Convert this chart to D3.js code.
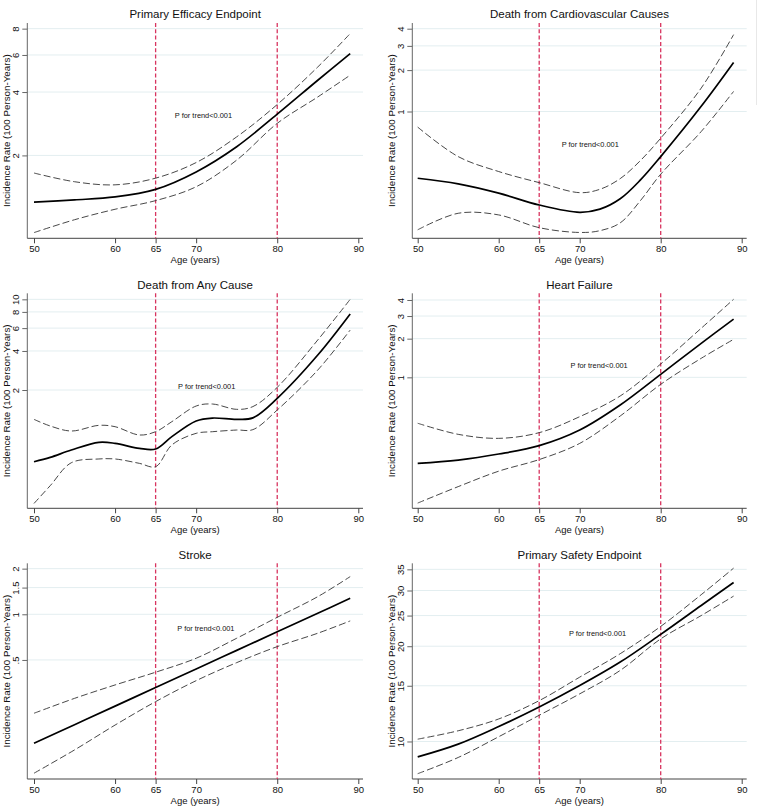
<!DOCTYPE html>
<html><head><meta charset="utf-8">
<script src="https://cdn.jsdelivr.net/npm/d3@7"></script>
<style>
html,body{margin:0;padding:0;background:#fff;}
svg{display:block;font-family:"Liberation Sans",Arial,Helvetica,sans-serif;}
</style></head>
<body><svg id="chart" width="760" height="808"></svg>
<script>
// ---------- data ----------
const ages = [50, 55, 60, 65, 70, 75, 80, 85, 89];
const cvDeathAges = [50, 55, 60, 65, 70, 72.5, 75, 77.5, 80, 85, 89];
const anyCauseAges = [50, 52, 54.6, 58, 60, 63, 65, 67, 70, 72, 75, 77, 80, 85, 89];
const xTicks = [50, 60, 65, 70, 80, 90];
const cutoffs = [65, 80];

const efficacyEst = [1.20, 1.23, 1.27, 1.38, 1.67, 2.20, 3.14, 4.55, 6.09];
const efficacyLo  = [0.86, 0.99, 1.11, 1.22, 1.42, 1.90, 2.84, 3.79, 4.81];
const efficacyHi  = [1.65, 1.50, 1.45, 1.56, 1.85, 2.45, 3.49, 5.26, 7.58];
const efficacyTicks = [2, 4, 6, 8];

const cvDeathEst = [0.327, 0.298, 0.255, 0.209, 0.185, 0.195, 0.232, 0.318, 0.470, 1.09, 2.27];
const cvDeathLo  = [0.138, 0.182, 0.177, 0.143, 0.132, 0.136, 0.155, 0.225, 0.350, 0.715, 1.40];
const cvDeathHi  = [0.770, 0.470, 0.366, 0.304, 0.257, 0.272, 0.325, 0.440, 0.640, 1.48, 3.62];
const cvDeathTicks = [1, 2, 3, 4];

const anyCauseEst = [0.560, 0.605, 0.689, 0.790, 0.776, 0.710, 0.702, 0.874, 1.154, 1.216, 1.188, 1.22, 1.725, 3.72, 7.71];
const anyCauseLo  = [0.267, 0.366, 0.550, 0.588, 0.588, 0.544, 0.513, 0.754, 0.927, 0.954, 0.983, 0.99, 1.402, 2.85, 5.80];
const anyCauseHi  = [1.188, 1.056, 0.966, 1.068, 1.043, 0.900, 0.954, 1.140, 1.505, 1.56, 1.419, 1.49, 2.097, 4.86, 10.0];
const anyCauseTicks = [2, 4, 6, 8, 10];

const hfEst = [0.214, 0.227, 0.253, 0.294, 0.389, 0.609, 1.055, 1.839, 2.84];
const hfLo  = [0.105, 0.141, 0.186, 0.229, 0.306, 0.500, 0.882, 1.406, 1.976];
const hfHi  = [0.439, 0.360, 0.335, 0.371, 0.494, 0.716, 1.270, 2.41, 4.05];
const hfTicks = [1, 2, 3, 4];

const strokeEst = [0.141, 0.187, 0.248, 0.329, 0.436, 0.578, 0.766, 1.016, 1.274];
const strokeLo  = [0.0895, 0.1275, 0.186, 0.2655, 0.365, 0.480, 0.612, 0.750, 0.904];
const strokeHi  = [0.2225, 0.279, 0.342, 0.415, 0.513, 0.695, 0.955, 1.307, 1.772];
const strokeTicks = [0.5, 1, 1.5, 2];
const strokeTickLabels = [".5", "1", "1.5", "2"];

const safetyEst = [8.94, 9.81, 11.15, 12.85, 15.02, 17.82, 21.8, 26.9, 31.8];
const safetyLo  = [7.91, 8.90, 10.35, 12.10, 14.14, 16.77, 21.1, 25.0, 28.8];
const safetyHi  = [10.17, 10.81, 11.78, 13.46, 15.97, 18.94, 23.1, 29.1, 35.3];
const safetyTicks = [10, 15, 20, 25, 30, 35];

const titles = ["Primary Efficacy Endpoint", "Death from Cardiovascular Causes",
  "Death from Any Cause", "Heart Failure", "Stroke", "Primary Safety Endpoint"];
const pLabel = "P for trend<0.001";
const xTitle = "Age (years)";
const yTitle = "Incidence Rate (100 Person-Years)";

// ---------- panel configuration ----------
const panels = [
  {title: titles[0], x: ages, est: efficacyEst, lo: efficacyLo, hi: efficacyHi, ticks: efficacyTicks, dom: [0.808, 8.51], col: 0, row: 0, note: [70.9, 3.1]},
  {title: titles[1], x: cvDeathAges, est: cvDeathEst, lo: cvDeathLo, hi: cvDeathHi, ticks: cvDeathTicks, dom: [0.1197, 4.40], col: 1, row: 0, note: [71.3, 0.578]},
  {title: titles[2], x: anyCauseAges, est: anyCauseEst, lo: anyCauseLo, hi: anyCauseHi, ticks: anyCauseTicks, dom: [0.245, 11.13], col: 0, row: 1, note: [71.3, 2.14]},
  {title: titles[3], x: ages, est: hfEst, lo: hfLo, hi: hfHi, ticks: hfTicks, dom: [0.0956, 4.51], col: 1, row: 1, note: [72.4, 1.23]},
  {title: titles[4], x: ages, est: strokeEst, lo: strokeLo, hi: strokeHi, ticks: strokeTicks, tickLabels: strokeTickLabels, dom: [0.082, 2.169], col: 0, row: 2, note: [71.2, 0.81]},
  {title: titles[5], x: ages, est: safetyEst, lo: safetyLo, hi: safetyHi, ticks: safetyTicks, dom: [7.61, 36.57], col: 1, row: 2, note: [72.2, 21.9]}
];

const cols = [
  {axisX: 27.3, right: 363, x0: 34, x1: 358.3},
  {axisX: 412.3, right: 746.7, x0: 417.7, x1: 741.7}
];
const rows = [
  {top: 23, bottom: 238.3, titleY: 18.3},
  {top: 293.3, bottom: 508.3, titleY: 289.3},
  {top: 563.3, bottom: 779, titleY: 559.3}
];

const svg = d3.select("#chart");

// faint frame artifact at right edge
svg.append("line").attr("x1", 756.5).attr("x2", 756.5).attr("y1", 0).attr("y2", 105)
  .attr("stroke", "#e8e8e8").attr("stroke-width", 1);

panels.forEach(p => {
  const c = cols[p.col], r = rows[p.row];
  const x = d3.scaleLinear().domain([50, 90]).range([c.x0, c.x1]);
  const y = d3.scaleLog().domain(p.dom).range([r.bottom, r.top]);
  const g = svg.append("g");

  // gridlines
  g.selectAll("line.grid").data(p.ticks).join("line")
    .attr("x1", c.axisX).attr("x2", c.right)
    .attr("y1", d => y(d)).attr("y2", d => y(d))
    .attr("stroke", "#e3eef0").attr("stroke-width", 1);

  // y axis
  const yAxis = d3.axisLeft(y).tickValues(p.ticks).tickSize(5).tickPadding(3)
    .tickFormat((d, i) => p.tickLabels ? p.tickLabels[i] : d3.format("d")(d));
  const ya = g.append("g").attr("transform", `translate(${c.axisX},0)`).call(yAxis);
  ya.select(".domain").attr("d", `M0,${r.top}V${r.bottom}`).attr("stroke", "#666");
  ya.selectAll(".tick line").attr("stroke", "#666");
  ya.selectAll(".tick text")
    .attr("font-size", 9.5).attr("fill", "#111")
    .attr("x", null).attr("dy", null)
    .attr("text-anchor", "middle")
    .attr("transform", "translate(-8.8,0) rotate(-90)");

  // x axis
  const xAxis = d3.axisBottom(x).tickValues(xTicks).tickSize(5).tickPadding(2).tickFormat(d3.format("d"));
  const xa = g.append("g").attr("transform", `translate(0,${r.bottom})`).call(xAxis);
  xa.select(".domain").attr("d", `M${c.axisX},0H${c.right}`).attr("stroke", "#444");
  xa.selectAll(".tick line").attr("stroke", "#444");
  xa.selectAll(".tick text").attr("font-size", 9.5).attr("fill", "#111");

  // cutoff lines
  g.selectAll("line.cut").data(cutoffs).join("line")
    .attr("x1", d => x(d)).attr("x2", d => x(d))
    .attr("y1", r.top).attr("y2", r.bottom)
    .attr("stroke", "#d8345f").attr("stroke-width", 1.3).attr("stroke-dasharray", "4,2.3");

  const line = arr => d3.line().curve(d3.curveCatmullRom.alpha(0.5))
    .x((d, i) => x(p.x[i])).y(d => y(d))(arr);

  g.append("path").attr("d", line(p.hi)).attr("fill", "none")
    .attr("stroke", "#333").attr("stroke-width", 0.9).attr("stroke-dasharray", "7,3");
  g.append("path").attr("d", line(p.lo)).attr("fill", "none")
    .attr("stroke", "#333").attr("stroke-width", 0.9).attr("stroke-dasharray", "7,3");
  g.append("path").attr("d", line(p.est)).attr("fill", "none")
    .attr("stroke", "#000").attr("stroke-width", 1.7);

  // titles
  g.append("text").attr("x", (c.axisX + c.right) / 2).attr("y", r.titleY)
    .attr("text-anchor", "middle").attr("font-size", 11.5).attr("fill", "#111").text(p.title);
  g.append("text").attr("x", (c.axisX + c.right) / 2).attr("y", r.bottom + 24.6)
    .attr("text-anchor", "middle").attr("font-size", 9.5).attr("fill", "#111").text(xTitle);
  g.append("text")
    .attr("transform", `translate(${c.axisX - 17.2},${(r.top + r.bottom) / 2}) rotate(-90)`)
    .attr("text-anchor", "middle").attr("font-size", 9.8).attr("fill", "#111").text(yTitle);

  // annotation
  g.append("text").attr("x", x(p.note[0])).attr("y", y(p.note[1]) + 2.6)
    .attr("text-anchor", "middle").attr("font-size", 7.4).attr("fill", "#111").text(pLabel);
});
</script>
</body></html>
